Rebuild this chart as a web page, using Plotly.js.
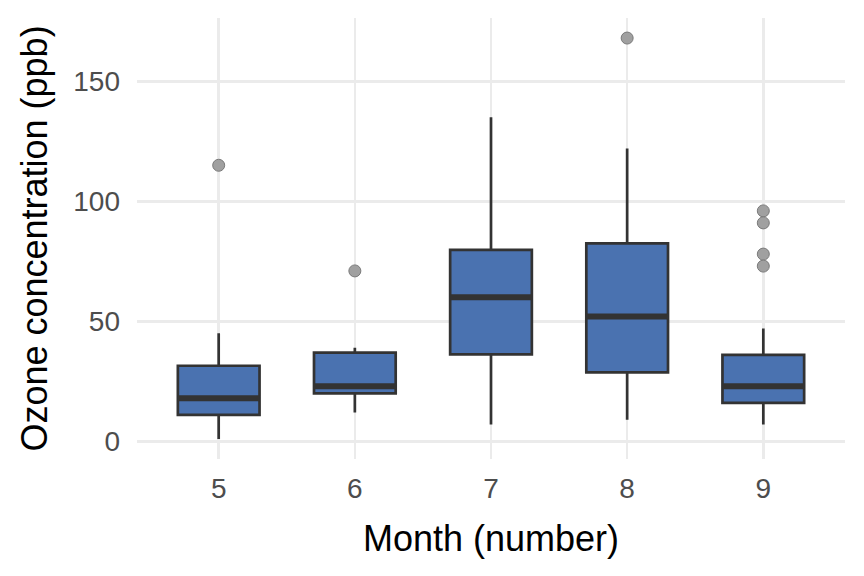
<!DOCTYPE html>
<html>
<head>
<meta charset="utf-8">
<script src="https://cdn.plot.ly/plotly-3.0.1.min.js"></script>
<style>html,body{margin:0;padding:0;background:#fff;}#chart{width:864px;height:576px;}</style>
</head>
<body>
<div id="chart"></div>
<script>
const months = [5, 6, 7, 8, 9];
const lowerWhisker = [1, 12, 7, 9, 7];
const q1 = [11, 20, 36.25, 28.75, 16];
const median = [18, 23, 60, 52, 23];
const q3 = [31.5, 37, 79.75, 82.5, 36];
const upperWhisker = [45, 39, 135, 122, 47];
const outlierMonth = [5, 6, 8, 9, 9, 9, 9];
const outlierOzone = [115, 71, 168, 96, 91, 78, 73];
const tickLabels = ['5', '6', '7', '8', '9'];

const boxWidth = 0.6;
const lineColor = '#333333';

const medX = [], medY = [];
months.forEach((m, i) => {
  medX.push(m - boxWidth / 2, m + boxWidth / 2, null);
  medY.push(median[i], median[i], null);
});

const traces = [
  {
    type: 'box',
    x: months,
    q1: q1,
    median: median,
    q3: q3,
    lowerfence: lowerWhisker,
    upperfence: upperWhisker,
    width: boxWidth,
    whiskerwidth: 0,
    boxpoints: false,
    fillcolor: '#4A72B0',
    line: {color: lineColor, width: 2.7},
    hoverinfo: 'skip',
    showlegend: false
  },
  {
    type: 'scatter',
    mode: 'lines',
    x: medX,
    y: medY,
    line: {color: lineColor, width: 6},
    hoverinfo: 'skip',
    showlegend: false
  },
  {
    type: 'scatter',
    mode: 'markers',
    x: outlierMonth,
    y: outlierOzone,
    marker: {size: 12, color: '#A0A0A0', line: {color: '#7a7a7a', width: 1}},
    hoverinfo: 'skip',
    showlegend: false
  }
];

const layout = {
  width: 864,
  height: 576,
  margin: {l: 137, r: 19, t: 18, b: 117},
  paper_bgcolor: '#ffffff',
  plot_bgcolor: '#ffffff',
  font: {family: 'Liberation Sans, Arial, sans-serif'},
  showlegend: false,
  xaxis: {
    range: [4.4, 9.6],
    tickmode: 'array',
    tickvals: months,
    ticktext: tickLabels,
    showgrid: true,
    gridcolor: '#EBEBEB',
    gridwidth: 2.5,
    zeroline: false,
    showline: false,
    ticks: '',
    ticklabelstandoff: 10,
    tickfont: {size: 28, color: '#4D4D4D'},
    title: {text: 'Month (number)', font: {size: 36, color: '#000000'}, standoff: 22}
  },
  yaxis: {
    range: [-7.35, 176.35],
    tickmode: 'array',
    tickvals: [0, 50, 100, 150],
    ticktext: ['0', '50', '100', '150'],
    showgrid: true,
    gridcolor: '#EBEBEB',
    gridwidth: 2.5,
    zeroline: false,
    showline: false,
    ticks: '',
    ticklabelstandoff: 16,
    tickfont: {size: 28, color: '#4D4D4D'},
    title: {text: 'Ozone concentration (ppb)', font: {size: 36, color: '#000000'}, standoff: 14}
  }
};

Plotly.newPlot('chart', traces, layout, {staticPlot: true, displayModeBar: false});
</script>
</body>
</html>
